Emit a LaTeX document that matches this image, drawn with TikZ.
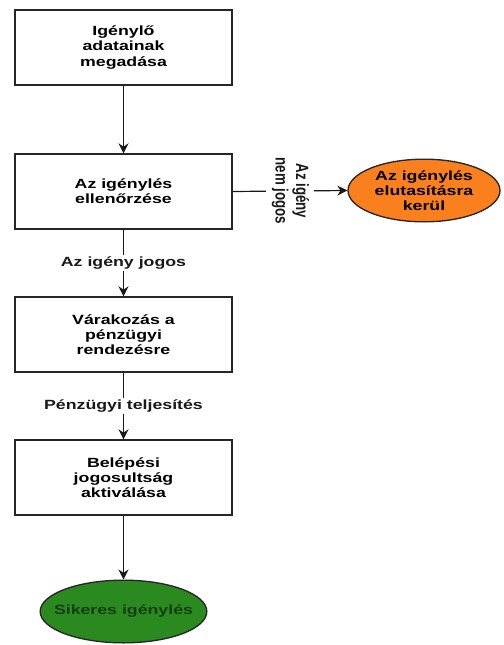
\documentclass[tikz,border=0pt]{standalone}
\usepackage{fontspec}
\usepackage{graphicx}
\setmainfont{Liberation Sans}[FakeStretch=1.33]
\newfontfamily\plainsans{Liberation Sans}
\usetikzlibrary{arrows.meta,shapes.geometric}

\definecolor{refuseorange}{RGB}{250,128,30}
\definecolor{successgreen}{RGB}{42,138,32}
\definecolor{darkgreentext}{RGB}{20,62,16}

\tikzset{every picture/.style={line width=1.1pt}}
\tikzset{
  stepbox/.style={draw=black!85, line width=1pt, fill=white, minimum width=162.75pt, minimum height=56.25pt, align=center, inner sep=0.75pt, font=\fontsize{10}{11.3}\selectfont\bfseries},
  endnode/.style={ellipse, draw=black!85, line width=1pt, inner sep=0.75pt, align=center, font=\fontsize{10}{11.3}\selectfont\bfseries},
  flow/.style={-{Stealth[length=7.5pt,width=7.5pt]}, black!90},
  flowlabel/.style={fill=white, inner sep=1.5pt, font=\fontsize{10}{11.3}\selectfont\bfseries}
}

\begin{document}
\begin{tikzpicture}[x=0.75pt,y=0.75pt,yscale=-1,xscale=1]
\useasboundingbox (0,0) rectangle (503,645);

% Process steps
\node [stepbox] (adatok) at (123.5,47.5) {Igénylő\\adatainak\\megadása};
\node [stepbox] (ellenorzes) at (123.5,191.5) {Az igénylés\\ellenőrzése};
\node [stepbox] (varakozas) at (123.5,334.5) {Várakozás a\\pénzügyi\\rendezésre};
\node [stepbox] (aktivalas) at (123.5,477.5) {Belépési\\jogosultság\\aktiválása};

% End states
\node [endnode, fill=refuseorange, minimum width=114pt, minimum height=47pt] (elutasitas) at (424,190.5) {Az igénylés\\elutasításra\\kerül};
\node [endnode, fill=successgreen, text=darkgreentext, inner xsep=-8pt, minimum width=125pt, minimum height=47pt] (sikeres) at (123.5,611.5) {Sikeres igénylés};

% Connectors
\draw [flow] (adatok) -- (ellenorzes);
\draw [flow] (ellenorzes) -- node [flowlabel] {Az igény jogos} (varakozas);
\draw [flow] (varakozas) -- node [flowlabel] {Pénzügyi teljesítés} (aktivalas);
\draw [flow] (aktivalas) -- (sikeres);
\draw [flow, line width=0.9pt] (ellenorzes.east) -- node [flowlabel, rotate=-90, inner sep=3pt] {\scalebox{1}[1.33]{\plainsans\bfseries\fontsize{10}{11.5}\selectfont\begin{tabular}{@{}c@{}}Az igény\\nem jogos\end{tabular}}} (elutasitas.west);

\end{tikzpicture}
\end{document}
